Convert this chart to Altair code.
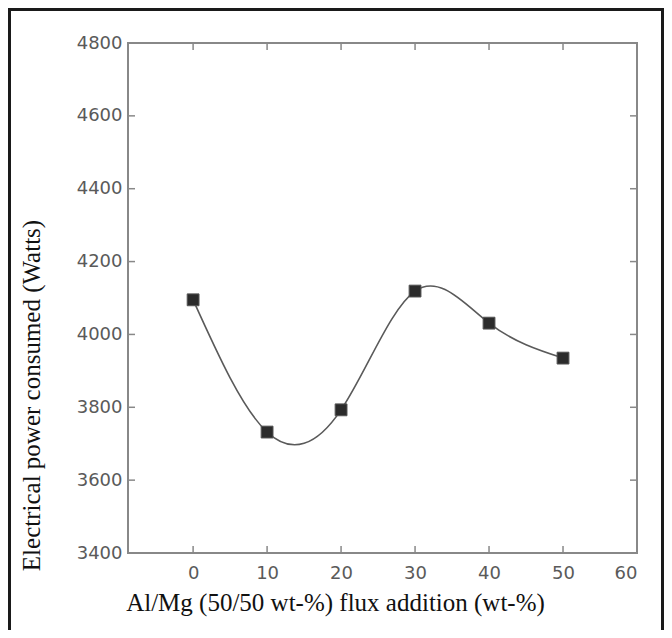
import altair as alt
import pandas as pd

flux = [0, 10, 20, 30, 40, 50]
power = [4095, 3732, 3793, 4119, 4031, 3935]

x_ticks = [0, 10, 20, 30, 40, 50, 60]
y_ticks = [3400, 3600, 3800, 4000, 4200, 4400, 4600, 4800]
x_inner_ticks = [0, 10, 20, 30, 40, 50]
y_inner_ticks = [3600, 3800, 4000, 4200, 4400, 4600]

W, H = 509, 510

df = pd.DataFrame({"flux": flux, "power": power})
xt = pd.DataFrame({"t": x_inner_ticks})
yt = pd.DataFrame({"t": y_inner_ticks})

xscale = alt.Scale(domain=[-8.8, 60], nice=False, zero=False)
yscale = alt.Scale(domain=[3400, 4800], nice=False, zero=False)

label_font = "DejaVu Sans"
title_font = "Liberation Serif"

xaxis = alt.Axis(values=x_ticks, format="d", ticks=False, domain=False, grid=False,
                 labelFont=label_font, labelFontSize=18, labelColor="#5a5a5a",
                 labelPadding=11,
                 title="Al/Mg (50/50 wt-%) flux addition (wt-%)",
                 titleFont=title_font, titleFontSize=25, titleFontWeight="normal",
                 titleColor="#111111", titleX=207, titleY=49,
                 titleBaseline="middle", titleAlign="center")
yaxis = alt.Axis(values=y_ticks, format="d", ticks=False, domain=False, grid=False,
                 labelFont=label_font, labelFontSize=18, labelColor="#5a5a5a",
                 labelPadding=6,
                 title="Electrical power consumed (Watts)",
                 titleFont=title_font, titleFontSize=25, titleFontWeight="normal",
                 titleColor="#111111", titleX=-97, titleY=352,
                 titleBaseline="middle", titleAlign="center", titleAngle=-90)

line = alt.Chart(df).mark_line(interpolate="natural", color="#5a5a5a", strokeWidth=1.6).encode(
    x=alt.X("flux:Q", scale=xscale, axis=xaxis),
    y=alt.Y("power:Q", scale=yscale, axis=yaxis),
)
pts = alt.Chart(df).mark_square(size=140, color="#2b2b2b", opacity=1,
                                stroke="#555555", strokeWidth=1).encode(
    x="flux:Q", y="power:Q")

tl = 7
bottom_ticks = alt.Chart(xt).mark_rule(color="#888888", strokeWidth=1.5).encode(
    x=alt.X("t:Q", scale=xscale), y=alt.value(H), y2=alt.value(H - tl))
top_ticks = alt.Chart(xt).mark_rule(color="#888888", strokeWidth=1.5).encode(
    x=alt.X("t:Q", scale=xscale), y=alt.value(0), y2=alt.value(tl))
left_ticks = alt.Chart(yt).mark_rule(color="#888888", strokeWidth=1.5).encode(
    y=alt.Y("t:Q", scale=yscale), x=alt.value(0), x2=alt.value(tl))
right_ticks = alt.Chart(yt).mark_rule(color="#888888", strokeWidth=1.5).encode(
    y=alt.Y("t:Q", scale=yscale), x=alt.value(W), x2=alt.value(W - tl))

border = alt.Chart(pd.DataFrame({"a": [0]})).mark_rect(
    fill=None, stroke="#1a1a1a", strokeWidth=3, clip=False).encode(
    x=alt.value(-118.5), x2=alt.value(W + 25.5),
    y=alt.value(-33.5), y2=alt.value(H + 95))

chart = alt.layer(border, bottom_ticks, top_ticks, left_ticks, right_ticks, line, pts).properties(
    width=W, height=H,
    autosize=alt.AutoSizeParams(type="none"),
    padding={"left": 120, "top": 35, "right": 27, "bottom": 77},
    background="white",
).configure_view(stroke="#888888", strokeWidth=2)

chart.save("out.html", embed_options={"renderer": "svg", "actions": False})
